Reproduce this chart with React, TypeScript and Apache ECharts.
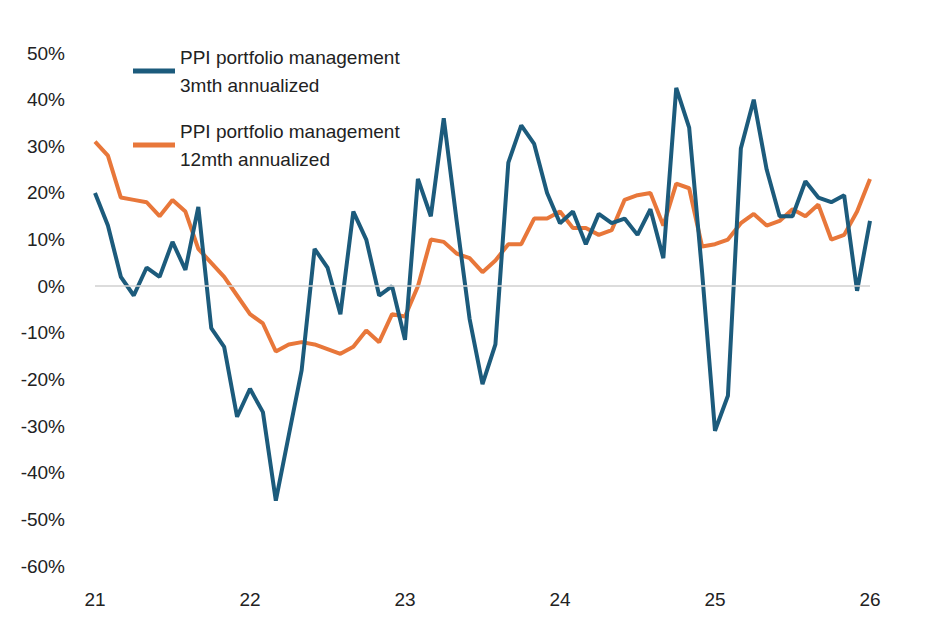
import React, { useEffect, useRef } from 'react';
import * as echarts from 'echarts';

const yearLabels = ['21', '22', '23', '24', '25', '26'];

const threeMonth = [
  20, 13, 2, -2, 4, 2, 9.5, 3.5, 17, -9, -13, -28,
  -22, -27, -46, -32, -18, 8, 4, -6, 16, 10, -2, 0,
  -11.5, 23, 15, 36, 14, -7, -21, -12.5, 26.5, 34.5, 30.5, 20,
  13.5, 16, 9, 15.5, 13.5, 14.5, 11, 16.5, 6, 42.5, 34, 3,
  -31, -23.5, 29.5, 40, 25, 15, 15, 22.5, 19, 18, 19.5, -1,
  14,
];

const twelveMonth = [
  31, 28, 19, 18.5, 18, 15, 18.5, 16, 8, 5, 2, -2,
  -6, -8, -14, -12.5, -12, -12.5, -13.5, -14.5, -13, -9.5, -12, -6,
  -6.5, 0, 10, 9.5, 7, 6, 3, 5.5, 9, 9, 14.5, 14.5,
  16, 12.5, 12.5, 11, 12, 18.5, 19.5, 20, 13, 22, 21, 8.5,
  9, 10, 13.5, 15.5, 13, 14, 16.5, 15, 17.5, 10, 11, 16,
  23,
];

const categories = threeMonth.map((_, i) => (i % 12 === 0 ? yearLabels[i / 12] : ''));

const App: React.FC = () => {
  const chartRef = useRef<HTMLDivElement | null>(null);

  useEffect(() => {
    let chart: echarts.ECharts | null = null;
    if (chartRef.current) {
      chart = echarts.init(chartRef.current, undefined, { renderer: 'svg' });
      const font = 'Liberation Sans, Arial, sans-serif';
      chart.setOption({
        animation: false,
        textStyle: { fontFamily: font },
        grid: { left: 95, right: 70, top: 53, bottom: 69 },
        legend: {
          orient: 'vertical',
          left: 128,
          top: 38,
          itemGap: 18,
          itemWidth: 42,
          itemHeight: 5,
          icon: 'rect',
          textStyle: { fontSize: 19, lineHeight: 28, color: '#222', fontFamily: font },
          data: [
            'PPI portfolio management\n3mth annualized',
            'PPI portfolio management\n12mth annualized',
          ],
        },
        xAxis: {
          type: 'category',
          data: categories,
          boundaryGap: false,
          axisLine: { show: false },
          axisTick: { show: false },
          axisLabel: {
            interval: 0,
            fontSize: 19,
            color: '#222',
            margin: 24,
          },
        },
        yAxis: {
          type: 'value',
          min: -60,
          max: 50,
          interval: 10,
          splitLine: { show: false },
          axisLine: { show: false },
          axisTick: { show: false },
          axisLabel: {
            fontSize: 19,
            color: '#222',
            margin: 30,
            formatter: (v: number) => `${v}%`,
          },
        },
        series: [
          {
            name: 'PPI portfolio management\n3mth annualized',
            type: 'line',
            data: threeMonth,
            symbol: 'none',
            z: 3,
            lineStyle: { color: '#1c5b7c', width: 4 },
            itemStyle: { color: '#1c5b7c' },
            markLine: {
              silent: true,
              symbol: 'none',
              label: { show: false },
              lineStyle: { color: '#d0d0d0', width: 1.5, type: 'solid' },
              data: [{ yAxis: 0 }],
            },
          },
          {
            name: 'PPI portfolio management\n12mth annualized',
            type: 'line',
            data: twelveMonth,
            symbol: 'none',
            z: 2,
            lineStyle: { color: '#e8773a', width: 4 },
            itemStyle: { color: '#e8773a' },
          },
        ],
      });
    }
    return () => {
      chart?.dispose();
    };
  }, []);

  return (
    <div
      ref={chartRef}
      style={{ position: 'absolute', left: 0, top: 0, width: 940, height: 635, background: '#fff' }}
    ></div>
  );
};

export default App;
